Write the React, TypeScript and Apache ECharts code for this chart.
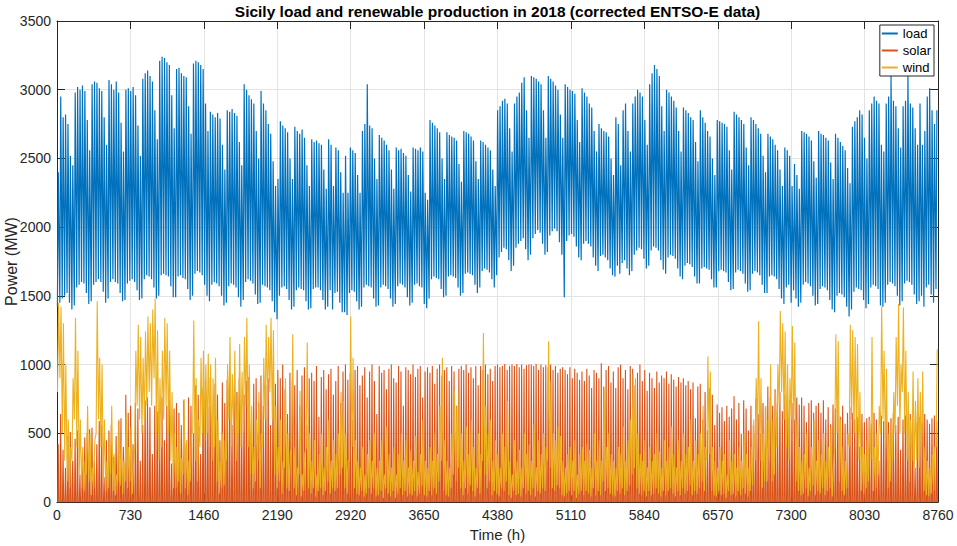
import React, { useEffect, useRef } from 'react';
import * as echarts from 'echarts';

const TITLE = 'Sicily load and renewable production in 2018 (corrected ENTSO-E data)';
const X_NAME = 'Time (h)';
const Y_NAME = 'Power (MW)';
const SERIES_NAMES = ['load', 'solar', 'wind'];
const SERIES_COLORS = ['#0072BD', '#D95319', '#EDB120'];
const X_TICKS = [0, 730, 1460, 2190, 2920, 3650, 4380, 5110, 5840, 6570, 7300, 8030, 8760];
const Y_TICKS = [0, 500, 1000, 1500, 2000, 2500, 3000, 3500];

// daily values (Mon..Sun per row), 2018 starts on a Monday
const LOAD_MAX = [
  2400, 2950, 2800, 2820, 2750, 2520, 2450,
  2980, 3020, 3000, 3030, 2990, 2780, 2560,
  3040, 3060, 3050, 3010, 2990, 2800, 2600,
  3070, 3040, 3000, 3060, 2980, 2760, 2550,
  3000, 3010, 2990, 3020, 2960, 2740, 2520,
  3080, 3120, 3140, 3100, 3060, 2850, 2640,
  3210, 3240, 3230, 3200, 3180, 2960, 2720,
  3150, 3160, 3120, 3100, 3090, 2880, 2680,
  3190, 3210, 3200, 3180, 3150, 2900, 2700,
  2840, 2820, 2800, 2830, 2790, 2600, 2420,
  2850, 2840, 2860, 2830, 2810, 2620, 2450,
  3040, 3000, 2960, 2930, 2900, 2700, 2500,
  2990, 2900, 2850, 2750, 2680, 2480, 2300,
  2350, 2770, 2740, 2720, 2690, 2500, 2350,
  2730, 2700, 2680, 2710, 2650, 2450, 2300,
  2640, 2620, 2630, 2610, 2600, 2420, 2280,
  2640, 2600, 2300, 2580, 2560, 2400, 2250,
  2520, 2250, 2580, 2560, 2540, 2380, 2250,
  2700, 2750, 3040, 2740, 2720, 2500, 2350,
  2670, 2650, 2630, 2600, 2560, 2420, 2280,
  2580, 2560, 2570, 2540, 2520, 2380, 2260,
  2580, 2570, 2560, 2580, 2550, 2250, 2200,
  2780, 2760, 2740, 2720, 2690, 2500, 2350,
  2690, 2670, 2660, 2650, 2630, 2460, 2330,
  2700, 2690, 2680, 2660, 2630, 2480, 2350,
  2630, 2620, 2600, 2580, 2560, 2420, 2300,
  2850, 2880, 2920, 2935, 2900, 2720, 2550,
  2900, 2950, 2980, 3050, 3090, 2850, 2650,
  3100, 3090, 3080, 3060, 3040, 2850, 2650,
  3100, 3080, 3060, 3030, 3000, 2820, 2650,
  3040, 3020, 3000, 2990, 2970, 2780, 2620,
  3010, 2980, 2950, 2900, 2870, 2700, 2550,
  2750, 2720, 2700, 2690, 2660, 2500, 2380,
  2800, 2750, 2450, 2850, 2900, 2700, 2550,
  2900, 2950, 3000, 2980, 2950, 2780, 2600,
  3040, 3120, 3180, 3150, 3100, 2880, 2700,
  3000, 2980, 2950, 2920, 2870, 2700, 2550,
  2870, 2850, 2830, 2800, 2780, 2620, 2480,
  2850, 2800, 2760, 2700, 2660, 2500, 2380,
  2780, 2770, 2760, 2750, 2730, 2560, 2420,
  2840, 2820, 2800, 2780, 2750, 2580, 2450,
  2800, 2780, 2750, 2720, 2680, 2520, 2400,
  2680, 2660, 2640, 2600, 2560, 2420, 2300,
  2580, 2560, 2520, 2300, 2460, 2380, 2280,
  2700, 2690, 2680, 2660, 2630, 2480, 2360,
  2700, 2680, 2670, 2650, 2630, 2470, 2350,
  2680, 2650, 2620, 2590, 2560, 2430, 2320,
  2730, 2770, 2800, 2850, 2820, 2650, 2500,
  2850, 2900, 2950, 2920, 2900, 2600, 2550,
  2900, 2950, 3100, 2920, 2880, 2720, 2580,
  2880, 2920, 3115, 2900, 2870, 2720, 2600,
  2900, 2600, 2700, 2950, 3010, 2850, 2750,
  2850,
];

const LOAD_MIN = [
  1420, 1450, 1480, 1500, 1520, 1450, 1400,
  1430, 1560, 1580, 1600, 1590, 1520, 1440,
  1460, 1580, 1600, 1620, 1600, 1530, 1450,
  1480, 1600, 1620, 1600, 1590, 1520, 1460,
  1470, 1590, 1610, 1620, 1600, 1540, 1470,
  1480, 1620, 1650, 1640, 1620, 1560, 1480,
  1500, 1650, 1660, 1650, 1640, 1570, 1490,
  1490, 1640, 1650, 1630, 1620, 1550, 1470,
  1500, 1660, 1680, 1670, 1650, 1580, 1500,
  1460, 1580, 1600, 1590, 1570, 1500, 1430,
  1450, 1570, 1590, 1580, 1560, 1490, 1420,
  1470, 1600, 1620, 1610, 1590, 1510, 1440,
  1450, 1580, 1570, 1560, 1540, 1460, 1380,
  1330, 1500, 1560, 1570, 1550, 1470, 1400,
  1420, 1540, 1560, 1550, 1540, 1460, 1400,
  1410, 1550, 1560, 1560, 1540, 1470, 1400,
  1420, 1540, 1400, 1520, 1530, 1450, 1380,
  1380, 1360, 1520, 1540, 1530, 1460, 1400,
  1420, 1560, 1580, 1570, 1560, 1480, 1420,
  1430, 1560, 1580, 1570, 1550, 1480, 1420,
  1440, 1570, 1590, 1580, 1560, 1490, 1430,
  1450, 1580, 1590, 1570, 1560, 1440, 1410,
  1480, 1620, 1640, 1630, 1620, 1550, 1490,
  1500, 1640, 1650, 1640, 1630, 1560, 1500,
  1520, 1660, 1670, 1660, 1650, 1580, 1520,
  1560, 1680, 1700, 1690, 1670, 1620, 1560,
  1650, 1780, 1820, 1850, 1840, 1760, 1680,
  1720, 1850, 1880, 1900, 1920, 1840, 1760,
  1800, 1920, 1950, 1980, 1960, 1880, 1800,
  1820, 1940, 1970, 1990, 1970, 1890, 1800,
  1490, 1900, 1940, 1950, 1930, 1860, 1780,
  1760, 1880, 1900, 1880, 1860, 1780, 1720,
  1680, 1790, 1800, 1780, 1760, 1700, 1650,
  1640, 1720, 1660, 1740, 1760, 1700, 1650,
  1680, 1800, 1830, 1850, 1840, 1770, 1700,
  1720, 1830, 1860, 1850, 1830, 1760, 1690,
  1660, 1780, 1800, 1790, 1770, 1700, 1640,
  1620, 1720, 1740, 1730, 1710, 1640, 1590,
  1590, 1700, 1710, 1700, 1690, 1620, 1560,
  1560, 1680, 1690, 1680, 1670, 1600, 1540,
  1550, 1670, 1690, 1680, 1660, 1590, 1530,
  1540, 1660, 1680, 1670, 1650, 1580, 1520,
  1520, 1640, 1650, 1640, 1620, 1550, 1480,
  1440, 1560, 1580, 1450, 1540, 1480, 1420,
  1450, 1580, 1600, 1590, 1570, 1500, 1430,
  1440, 1550, 1570, 1560, 1540, 1470, 1400,
  1380, 1500, 1520, 1510, 1490, 1420, 1350,
  1400, 1530, 1560, 1550, 1540, 1470, 1410,
  1440, 1560, 1580, 1570, 1550, 1430, 1420,
  1450, 1580, 1600, 1590, 1570, 1500, 1430,
  1460, 1590, 1610, 1600, 1580, 1510, 1440,
  1460, 1500, 1420, 1560, 1580, 1510, 1450,
  1550,
];

const SOLAR_MAX = [
  420, 640, 380, 250, 480, 510, 300,
  460, 520, 200, 350, 470, 500, 530,
  540, 300, 420, 590, 560, 180, 450,
  520, 560, 330, 480, 590, 610, 400,
  780, 650, 700, 420, 720, 680, 300,
  560, 740, 760, 690, 350, 700, 660,
  620, 760, 450, 700, 740, 280, 680,
  720, 650, 560, 740, 420, 760, 700,
  500, 850, 780, 350, 820, 880, 690,
  905, 620, 860, 780, 450, 870, 720,
  890, 920, 560, 840, 800, 900, 650,
  780, 880, 910, 480, 860, 900, 720,
  920, 700, 850, 900, 560, 880, 860,
  960, 900, 1000, 820, 640, 940, 880,
  850, 960, 700, 920, 980, 560, 900,
  940, 880, 990, 620, 910, 960, 820,
  930, 970, 780, 880, 990, 720, 950,
  1000, 890, 940, 600, 960, 990, 850,
  920, 980, 760, 950, 1000, 880, 640,
  990, 940, 960, 820, 970, 1000, 900,
  870, 990, 950, 700, 980, 960, 930,
  1000, 910, 970, 990, 760, 950, 980,
  940, 990, 860, 970, 1000, 920, 960,
  980, 880, 990, 950, 700, 970, 990,
  960, 1000, 940, 980, 900, 990, 850,
  990, 960, 1000, 930, 970, 880, 990,
  1000, 980, 990, 1005, 960, 990, 1000,
  990, 1005, 980, 1000, 970, 995, 1000,
  1000, 990, 1005, 960, 1000, 980, 995,
  980, 1000, 960, 990, 940, 970, 980,
  960, 930, 980, 900, 970, 940, 890,
  950, 880, 970, 920, 830, 960, 940,
  900, 1010, 840, 960, 990, 870, 950,
  830, 980, 1000, 900, 960, 820, 990,
  970, 850, 940, 1000, 880, 960, 810,
  940, 900, 830, 950, 870, 920, 900,
  950, 860, 930, 890, 840, 910, 870,
  900, 850, 880, 820, 870, 610, 840,
  860, 600, 800, 520, 830, 780, 560,
  710, 650, 690, 590, 700, 620, 680,
  770, 600, 720, 495, 740, 680, 520,
  700, 560, 750, 640, 500, 720, 690,
  840, 760, 700, 820, 720, 800, 660,
  780, 690, 740, 720, 600, 760, 710,
  760, 700, 580, 720, 740, 650, 700,
  720, 650, 740, 600, 690, 565, 710,
  680, 740, 620, 700, 570, 650, 690,
  650, 600, 620, 400, 640, 580, 610,
  620, 570, 650, 600, 300, 630, 590,
  640, 580, 610, 650, 560, 620, 380,
  600, 630, 570, 640, 610, 250, 590,
  620, 580, 640, 600, 570, 610, 630,
  590,
];
const SOLAR_NIGHT = 0;

const WIND_MAX = [
  1450, 1420, 1300, 1000, 600, 400, 900,
  1340, 1100, 600, 400, 300, 700, 500,
  250, 450, 1460, 1050, 1000, 600, 300,
  500, 700, 350, 200, 600, 450, 300,
  650, 400, 550, 250, 1100, 1290, 1200,
  1050, 1240, 1350, 1300, 1400, 1480, 1250,
  900, 1100, 1340, 1300, 1100, 800, 500,
  400, 600, 320, 750, 450, 300, 500,
  1320, 900, 600, 1050, 1100, 1000, 1080,
  1000, 900, 1050, 600, 300, 500, 450,
  1000, 1200, 930, 1100, 800, 1150, 950,
  1200, 1340, 1000, 700, 400, 600, 800,
  500, 1050, 1290, 1200, 1340, 1250, 700,
  400, 600, 300, 900, 500, 350, 1220,
  400, 250, 810, 200, 350, 1160, 500,
  300, 450, 200, 350, 500, 250, 400,
  600, 300, 450, 350, 500, 800, 735,
  500, 300, 1350, 1050, 450, 300, 250,
  400, 200, 350, 450, 300, 500, 250,
  300, 450, 200, 550, 350, 250, 400,
  200, 350, 500, 300, 450, 250, 380,
  300, 480, 220, 350, 600, 300, 250,
  400, 300, 500, 350, 700, 1050, 450,
  300, 250, 500, 810, 700, 810, 500,
  300, 550, 350, 600, 400, 250, 500,
  350, 1230, 700, 500, 600, 300, 450,
  350, 250, 500, 400, 735, 300, 200,
  450, 300, 380, 250, 500, 350, 420,
  300, 570, 250, 450, 350, 500, 400,
  1170, 880, 500, 450, 550, 480, 300,
  250, 350, 400, 300, 450, 200, 350,
  400, 300, 420, 380, 250, 500, 300,
  450, 300, 830, 400, 500, 350, 300,
  250, 400, 350, 550, 300, 450, 600,
  930, 900, 500, 350, 300, 450, 250,
  400, 300, 350, 500, 370, 250, 450,
  300, 400, 550, 350, 250, 450, 300,
  500, 350, 400, 600, 300, 450, 350,
  500, 700, 400, 1060, 950, 400, 300,
  250, 400, 300, 350, 200, 450, 300,
  350, 250, 400, 300, 500, 350, 250,
  400, 600, 900, 1316, 900, 500, 700,
  600, 1000, 600, 800, 1000, 1390, 1300,
  1240, 1000, 900, 1280, 1160, 600, 400,
  300, 350, 500, 250, 400, 600, 300,
  450, 350, 500, 300, 400, 550, 250,
  1220, 1170, 600, 400, 300, 500, 1290,
  1250, 1200, 1150, 800, 400, 350, 450,
  600, 1200, 400, 500, 700, 1425, 1100,
  970, 500, 600, 800, 1200, 1440, 1000,
  1415, 1100, 800, 600, 950, 735, 900,
  800, 950, 400, 300, 250, 350, 400,
  1110,
];

const WIND_MIN = [
  800, 900, 500, 300, 150, 100, 300,
  600, 400, 200, 100, 80, 200, 150,
  50, 100, 500, 600, 400, 150, 80,
  100, 200, 80, 50, 150, 120, 60,
  150, 100, 150, 60, 400, 700, 600,
  500, 600, 700, 800, 700, 900, 500,
  300, 400, 600, 700, 500, 300, 100,
  100, 150, 60, 200, 100, 50, 150,
  500, 300, 150, 400, 500, 450, 500,
  400, 300, 400, 150, 60, 100, 120,
  300, 600, 400, 500, 300, 500, 400,
  500, 700, 400, 200, 100, 150, 300,
  100, 400, 600, 700, 800, 600, 200,
  100, 150, 60, 250, 100, 80, 400,
  100, 50, 200, 40, 80, 400, 100,
  60, 100, 40, 80, 100, 50, 80,
  150, 60, 100, 80, 100, 200, 250,
  100, 60, 300, 400, 100, 60, 50,
  80, 40, 60, 100, 60, 100, 40,
  50, 80, 30, 100, 60, 40, 80,
  30, 60, 100, 50, 80, 40, 60,
  50, 80, 40, 60, 120, 50, 40,
  80, 50, 100, 60, 150, 300, 80,
  50, 40, 100, 200, 150, 250, 100,
  50, 100, 60, 120, 80, 40, 100,
  60, 300, 200, 100, 150, 50, 80,
  60, 40, 100, 80, 150, 50, 30,
  80, 50, 60, 40, 100, 60, 80,
  50, 100, 40, 80, 60, 100, 80,
  300, 250, 100, 80, 120, 100, 50,
  40, 60, 80, 50, 80, 30, 60,
  80, 50, 80, 60, 40, 100, 50,
  80, 50, 150, 80, 100, 60, 50,
  40, 80, 60, 100, 50, 80, 120,
  200, 250, 100, 60, 50, 80, 40,
  80, 50, 60, 100, 60, 40, 80,
  50, 80, 100, 60, 40, 80, 50,
  100, 60, 80, 120, 50, 80, 60,
  100, 150, 80, 300, 350, 80, 50,
  40, 80, 50, 60, 30, 80, 50,
  60, 40, 80, 50, 100, 60, 40,
  80, 120, 300, 500, 300, 100, 150,
  150, 300, 150, 200, 400, 700, 800,
  600, 400, 300, 600, 500, 150, 80,
  50, 60, 100, 40, 80, 120, 50,
  80, 60, 100, 50, 80, 100, 40,
  400, 500, 150, 80, 50, 100, 400,
  600, 500, 500, 300, 80, 60, 100,
  150, 300, 80, 100, 200, 500, 600,
  400, 100, 150, 300, 500, 700, 500,
  800, 500, 300, 150, 300, 250, 300,
  250, 300, 80, 50, 40, 60, 80,
  400,
];

const HOURS_PER_DAY = 24;

function buildLoad(): number[][] {
  const out: number[][] = [];
  for (let d = 0; d < LOAD_MAX.length; d++) {
    out.push([d * HOURS_PER_DAY + 4, LOAD_MIN[d]]);
    out.push([d * HOURS_PER_DAY + 13, LOAD_MAX[d]]);
  }
  return out;
}

function buildSolar(): number[][] {
  const out: number[][] = [];
  for (let d = 0; d < SOLAR_MAX.length; d++) {
    out.push([d * HOURS_PER_DAY + 6, SOLAR_NIGHT]);
    out.push([d * HOURS_PER_DAY + 12, SOLAR_MAX[d]]);
    out.push([d * HOURS_PER_DAY + 18, SOLAR_NIGHT]);
  }
  return out;
}

function buildWind(): number[][] {
  const out: number[][] = [];
  for (let d = 0; d < WIND_MAX.length; d++) {
    out.push([d * HOURS_PER_DAY + 5, WIND_MIN[d]]);
    out.push([d * HOURS_PER_DAY + 16, WIND_MAX[d]]);
  }
  return out;
}

const FONT = '"Liberation Sans", Arial, Helvetica, sans-serif';
const AXIS_COLOR = '#262626';
const GRID_COLOR = '#e3e3e3';
const LINE_WIDTHS = [1.2, 1.1, 1.1];

export default function App() {
  const ref = useRef<HTMLDivElement>(null);

  useEffect(() => {
    if (!ref.current) return;
    const chart = echarts.init(ref.current, null, { renderer: 'svg' });
    const xMin = X_TICKS[0];
    const xMax = X_TICKS[X_TICKS.length - 1];
    const xStep = X_TICKS[1] - X_TICKS[0];
    const yMin = Y_TICKS[0];
    const yMax = Y_TICKS[Y_TICKS.length - 1];
    const yStep = Y_TICKS[1] - Y_TICKS[0];
    const plain = (v: number) => String(v);

    const datasets = [buildLoad(), buildSolar(), buildWind()];

    chart.setOption({
      animation: false,
      backgroundColor: '#ffffff',
      textStyle: { fontFamily: FONT },
      grid: { left: 57, right: 19, top: 21, bottom: 44, show: false, containLabel: false, outerBoundsMode: 'none' },
      graphic: [
        {
          type: 'text',
          x: 497.5,
          y: 11,
          style: {
            text: TITLE,
            fontSize: 15.5,
            fontWeight: 'bold',
            fontFamily: FONT,
            fill: '#000000',
            align: 'center',
            verticalAlign: 'middle',
          },
        },
      ],
      legend: {
        data: SERIES_NAMES,
        orient: 'vertical',
        right: 23,
        top: 25,
        icon: 'rect',
        itemWidth: 16,
        itemHeight: 2,
        itemGap: 2,
        padding: [1, 3, 1, 2],
        borderColor: AXIS_COLOR,
        borderWidth: 1,
        borderRadius: 0,
        backgroundColor: '#ffffff',
        textStyle: { fontSize: 13, color: '#000000', fontFamily: FONT, lineHeight: 15 },
        selectedMode: false,
      },
      xAxis: [
        {
          type: 'value',
          min: xMin,
          max: xMax,
          interval: xStep,
          position: 'bottom',
          name: X_NAME,
          nameLocation: 'middle',
          nameGap: 22,
          nameTextStyle: { fontSize: 15, color: AXIS_COLOR, fontFamily: FONT },
          axisLine: { show: true, onZero: false, lineStyle: { color: AXIS_COLOR, width: 1 } },
          axisTick: { show: true, inside: true, length: 8, lineStyle: { color: AXIS_COLOR } },
          axisLabel: { fontSize: 14, color: AXIS_COLOR, margin: 6, fontFamily: FONT, formatter: plain },
          splitLine: { show: true, lineStyle: { color: GRID_COLOR, width: 1 } },
        },
        {
          type: 'value',
          min: xMin,
          max: xMax,
          interval: xStep,
          position: 'top',
          axisLine: { show: true, onZero: false, lineStyle: { color: AXIS_COLOR, width: 1 } },
          axisTick: { show: true, inside: true, length: 8, lineStyle: { color: AXIS_COLOR } },
          axisLabel: { show: false },
          splitLine: { show: false },
        },
      ],
      yAxis: [
        {
          type: 'value',
          min: yMin,
          max: yMax,
          interval: yStep,
          position: 'left',
          name: Y_NAME,
          nameLocation: 'middle',
          nameGap: 38,
          nameRotate: 90,
          nameMoveOverlap: false,
          nameTextStyle: { fontSize: 16, color: AXIS_COLOR, fontFamily: FONT },
          axisLine: { show: true, onZero: false, lineStyle: { color: AXIS_COLOR, width: 1 } },
          axisTick: { show: true, inside: true, length: 8, lineStyle: { color: AXIS_COLOR } },
          axisLabel: { fontSize: 14, color: AXIS_COLOR, margin: 6, fontFamily: FONT, formatter: plain },
          splitLine: { show: true, lineStyle: { color: GRID_COLOR, width: 1 } },
        },
        {
          type: 'value',
          min: yMin,
          max: yMax,
          interval: yStep,
          position: 'right',
          axisLine: { show: true, onZero: false, lineStyle: { color: AXIS_COLOR, width: 1 } },
          axisTick: { show: true, inside: true, length: 8, lineStyle: { color: AXIS_COLOR } },
          axisLabel: { show: false },
          splitLine: { show: false },
        },
      ],
      series: SERIES_NAMES.map((name, i) => ({
        name,
        type: 'line',
        xAxisIndex: 0,
        yAxisIndex: 0,
        data: datasets[i],
        showSymbol: false,
        symbol: 'none',
        silent: true,
        color: SERIES_COLORS[i],
        lineStyle: { color: SERIES_COLORS[i], width: LINE_WIDTHS[i] },
        emphasis: { disabled: true },
      })),
    });

    return () => chart.dispose();
  }, []);

  return (
    <div
      ref={ref}
      style={{ position: 'fixed', left: 0, top: 0, width: 957, height: 546, background: '#ffffff' }}
    />
  );
}
